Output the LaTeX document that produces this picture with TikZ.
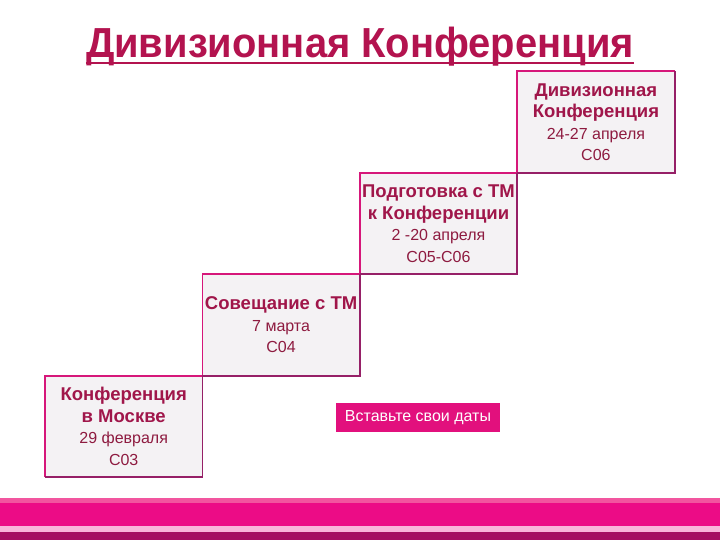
\documentclass[tikz,border=0pt]{standalone}
\usepackage{fontspec}
\setmainfont{Liberation Sans}
\usepackage{xcolor}
\usetikzlibrary{calc,positioning}

\definecolor{titlered}{HTML}{B3134F}
\definecolor{boldred}{HTML}{A0164A}
\definecolor{datered}{HTML}{8E1B40}
\definecolor{boxgray}{HTML}{F4F2F4}
\definecolor{framepink}{HTML}{D6177A}
\definecolor{framedark}{HTML}{962067}
\definecolor{btnpink}{HTML}{E2107D}
\definecolor{barpink}{HTML}{EC0C86}
\definecolor{bartop}{HTML}{F2559F}
\definecolor{barlight}{HTML}{F9B6DA}
\definecolor{bardark}{HTML}{A50F62}

\newcommand{\stephead}[1]{\textcolor{boldred}{\fontsize{18.5}{21.5}\selectfont\bfseries #1}}

\begin{document}
\begin{tikzpicture} [x=1pt, y=-1pt, node distance=0pt,
	stepbox/.style={fill=boxgray, minimum width=157pt, minimum height=101pt, inner sep=0pt, align=center, text=datered, font=\fontsize{16}{21.5}\selectfont},
	pinkedge/.style={framepink, line width=1.8pt},
	darkedge/.style={framedark, line width=1.8pt}]
	
	\fill [white] (0,0) rectangle (720,540);
	
	\useasboundingbox (0,0) rectangle (720,540);
	
	
	\node (title) [anchor=base, inner sep=0pt, xscale=0.95, transform shape, text=titlered, font=\fontsize{42}{42}\selectfont\bfseries] at (360,58) {Дивизионная Конференция};
	
	\draw [titlered, line width=2.6pt] ($(title.base west)+(0,5)$) -- ($(title.base east)+(0,5)$);
	
	
	\node (conf_M) [stepbox, anchor=south west] at (45,477) {\stephead{Конференция}\\\stephead{в Москве}\\29 февраля\\С03};
	
	\node (meet_TM) [stepbox, above right=0pt and 0pt of conf_M] {\stephead{Совещание с ТМ}\\7 марта\\С04};
	
	\node (prep_TM) [stepbox, above right=0pt and 0pt of meet_TM] {\stephead{Подготовка с ТМ}\\\stephead{к Конференции}\\2 -20 апреля\\С05-С06};
	
	\node (conf_D) [stepbox, above right=0pt and 0pt of prep_TM] {\stephead{Дивизионная}\\\stephead{Конференция}\\24-27 апреля\\С06};
	
	
	\draw [pinkedge] (conf_M.south west) |- (conf_M.north east);
	\draw [darkedge] (conf_M.north east) |- (conf_M.south west);
	
	\draw [pinkedge] (meet_TM.south west) |- (meet_TM.north east);
	\draw [darkedge] (meet_TM.north east) |- (meet_TM.south west);
	
	\draw [pinkedge] (prep_TM.south west) |- (prep_TM.north east);
	\draw [darkedge] (prep_TM.north east) |- (prep_TM.south west);
	
	\draw [pinkedge] (conf_D.south west) |- (conf_D.north east);
	\draw [darkedge] (conf_D.north east) |- (conf_D.south west);
	
	
	\node (dates) [fill=btnpink, text=white, minimum width=164pt, minimum height=29pt, inner sep=0pt, font=\fontsize{16}{16}\selectfont] at (418,417.5) {Вставьте свои даты};
	
	
	\fill [barpink] (0,498) rectangle (720,526);
	\fill [bartop] (0,498) rectangle (720,503);
	\fill [barlight] (0,526) rectangle (720,532);
	\fill [bardark] (0,532) rectangle (720,540);
	
\end{tikzpicture}
\end{document}
